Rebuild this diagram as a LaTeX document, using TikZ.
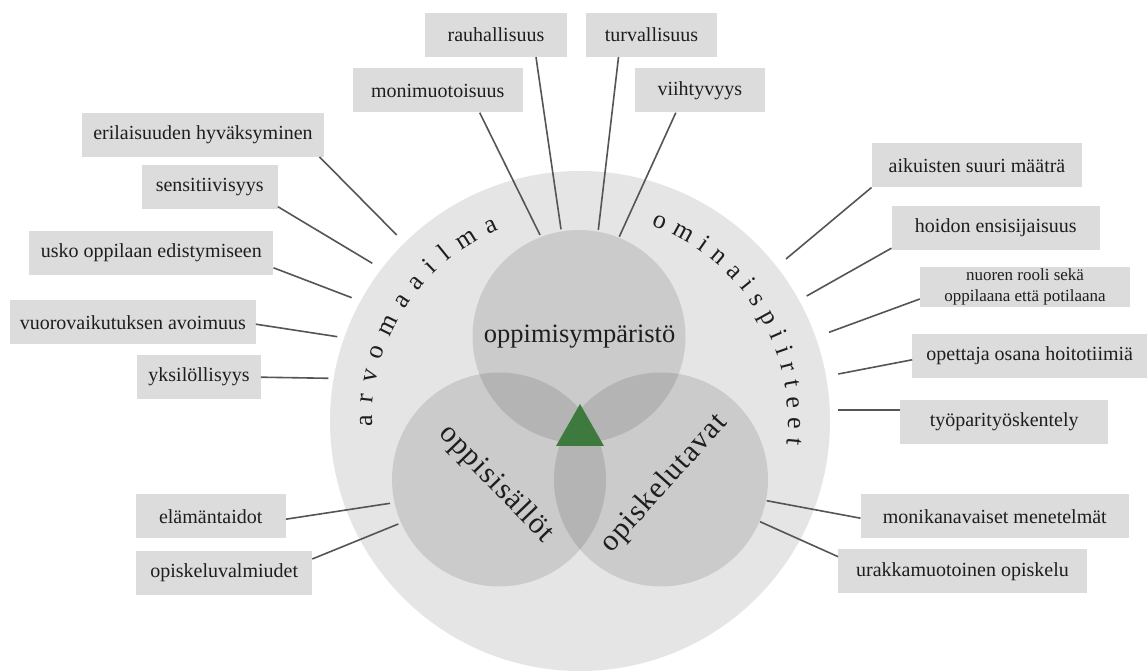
\documentclass[tikz,border=0pt]{standalone}
\usepackage{fontspec}
\setmainfont{Liberation Serif}
\usetikzlibrary{decorations.text,calc}

\definecolor{ringgray}{RGB}{229,229,229}
\definecolor{boxgray}{RGB}{220,220,220}
\definecolor{linegray}{RGB}{85,85,85}
\definecolor{inkgray}{RGB}{30,30,30}
\definecolor{leafgreen}{RGB}{62,122,62}

\newcommand\arcfont{\fontsize{26}{29}\selectfont}

\begin{document}
\begin{tikzpicture}[x=1pt,y=1pt,
  labelbox/.style={fill=boxgray, text=inkgray, minimum height=44pt, inner sep=0pt,
                   font=\fontsize{20}{24}\selectfont},
  spoke/.style={draw=linegray, line width=1.6pt},
  petal/.style={fill=black, fill opacity=0.11},
  bigword/.style={text=inkgray, font=\fontsize{26.5}{30}\selectfont},
  slantword/.style={text=inkgray, font=\fontsize{30}{34}\selectfont\addfontfeature{LetterSpace=4}},
]
\useasboundingbox (0,0) rectangle (1147,671);
\fill[white] (0,0) rectangle (1147,671);

% outer ring and the three overlapping circles
\fill[ringgray] (580,250) circle[radius=250pt];
\fill[petal] (579,334.5) circle[radius=106.5pt];
\fill[petal] (499,191.5) circle[radius=107pt];
\fill[petal] (661,191.5) circle[radius=107pt];

% green triangle in the middle
\fill[leafgreen] (580,267) -- (556,225) -- (604,225) -- cycle;

% circle titles
\node[bigword] (env) at (579.6,334.6) {oppimisympäristö};
\node[slantword, rotate=-46] (cont) at (496,187) {oppisisällöt};
\node[slantword, rotate=48] (ways) at (664.3,187.3) {opiskelutavat};

% curved titles on the ring
\path[decorate, decoration={text along path, text={|\arcfont|arvomaailma},
      text align=fit to path, text color=inkgray}]
  (580,250) ++(181.5:208) arc[start angle=181.5, end angle=113, radius=208pt];
\path[decorate, decoration={text along path, text={|\arcfont|ominaispiirteet},
      text align=fit to path, text color=inkgray}]
  (580,250) ++(70:208) arc[start angle=70, end angle=-6.5, radius=208pt];

% label boxes
\node[labelbox, minimum width=142pt] (rau) at (496,636) {rauhallisuus};
\node[labelbox, minimum width=131.6pt] (turv) at (651.5,636) {turvallisuus};
\node[labelbox, minimum width=170pt] (moni) at (437.7,580.5) {monimuotoisuus};
\node[labelbox, minimum width=130pt] (viiht) at (699.8,580.5) {viihtyvyys};
\node[labelbox, minimum width=242.6pt] (eril) at (203,536.3) {erilaisuuden hyväksyminen};
\node[labelbox, minimum width=136pt] (sens) at (209.7,483.5) {sensitiivisyys};
\node[labelbox, minimum width=244pt] (usko) at (151.3,418.2) {usko oppilaan edistymiseen};
\node[labelbox, minimum width=245.7pt] (vuoro) at (132.8,348.8) {vuorovaikutuksen avoimuus};
\node[labelbox, minimum width=123.4pt] (yksi) at (199,293.8) {yksilöllisyys};
\node[labelbox, minimum width=150pt] (elam) at (210.7,154.8) {elämäntaidot};
\node[labelbox, minimum width=175.7pt] (opval) at (224.2,98.3) {opiskeluvalmiudet};
\node[labelbox, minimum width=210.6pt] (aik) at (977,505.7) {aikuisten suuri määträ};
\node[labelbox, minimum width=208.3pt] (hoid) at (995.8,443) {hoidon ensisijaisuus};
\node[labelbox, minimum width=210pt, minimum height=40.6pt, align=center,
      font=\fontsize{17}{21}\selectfont] (nuor) at (1025,384)
      {nuoren rooli sekä\\oppilaana että potilaana};
\node[labelbox, minimum width=234.7pt] (opet) at (1029.7,315.2) {opettaja osana hoitotiimiä};
\node[labelbox, minimum width=208.3pt] (tyo) at (1004.2,249.3) {työparityöskentely};
\node[labelbox, minimum width=268.3pt] (monik) at (994.8,154.8) {monikanavaiset menetelmät};
\node[labelbox, minimum width=248.4pt] (urak) at (962.5,99.7) {urakkamuotoinen opiskelu};

% spoke end points on the ring
\coordinate (e1) at (561,441.7);
\coordinate (e2) at (598.3,441);
\coordinate (e3) at (540,436);
\coordinate (e4) at (619.3,434.3);
\coordinate (e5) at (396.7,436);
\coordinate (e6) at (372.3,407.7);
\coordinate (e7) at (351.7,373.3);
\coordinate (e8) at (337.3,334.3);
\coordinate (e9) at (328.3,292.7);
\coordinate (e10) at (390,167.7);
\coordinate (e11) at (398.3,147);
\coordinate (e12) at (786,412);
\coordinate (e13) at (806.7,375);
\coordinate (e14) at (829,338.7);
\coordinate (e15) at (838.3,297);
\coordinate (e16) at (838.3,261);
\coordinate (e17) at (766.7,170.3);
\coordinate (e18) at (760,149.3);

% spokes
\draw[spoke] ([xshift=40pt]rau.south) -- (e1);
\draw[spoke] ([xshift=-33pt]turv.south) -- (e2);
\draw[spoke] ([xshift=42pt]moni.south) -- (e3);
\draw[spoke] ([xshift=-24pt]viiht.south) -- (e4);
\draw[spoke] ([xshift=-5pt]eril.south east) -- (e5);
\draw[spoke] ([yshift=3pt]sens.south east) -- (e6);
\draw[spoke] ([yshift=-15pt]usko.east) -- (e7);
\draw[spoke] ([yshift=-2pt]vuoro.east) -- (e8);
\draw[spoke] (yksi.east) -- (e9);
\draw[spoke] ([yshift=-3pt]elam.east) -- (e10);
\draw[spoke] ([yshift=13.7pt]opval.east) -- (e11);
\draw[spoke] (aik.south west) -- (e12);
\draw[spoke] ([yshift=2pt]hoid.south west) -- (e13);
\draw[spoke] ([yshift=-12pt]nuor.west) -- (e14);
\draw[spoke] ([yshift=-4pt]opet.west) -- (e15);
\draw[spoke] ([yshift=11.7pt]tyo.west) -- (e16);
\draw[spoke] ([yshift=-2pt]monik.west) -- (e17);
\draw[spoke] ([yshift=14.6pt]urak.west) -- (e18);
\end{tikzpicture}
\end{document}
